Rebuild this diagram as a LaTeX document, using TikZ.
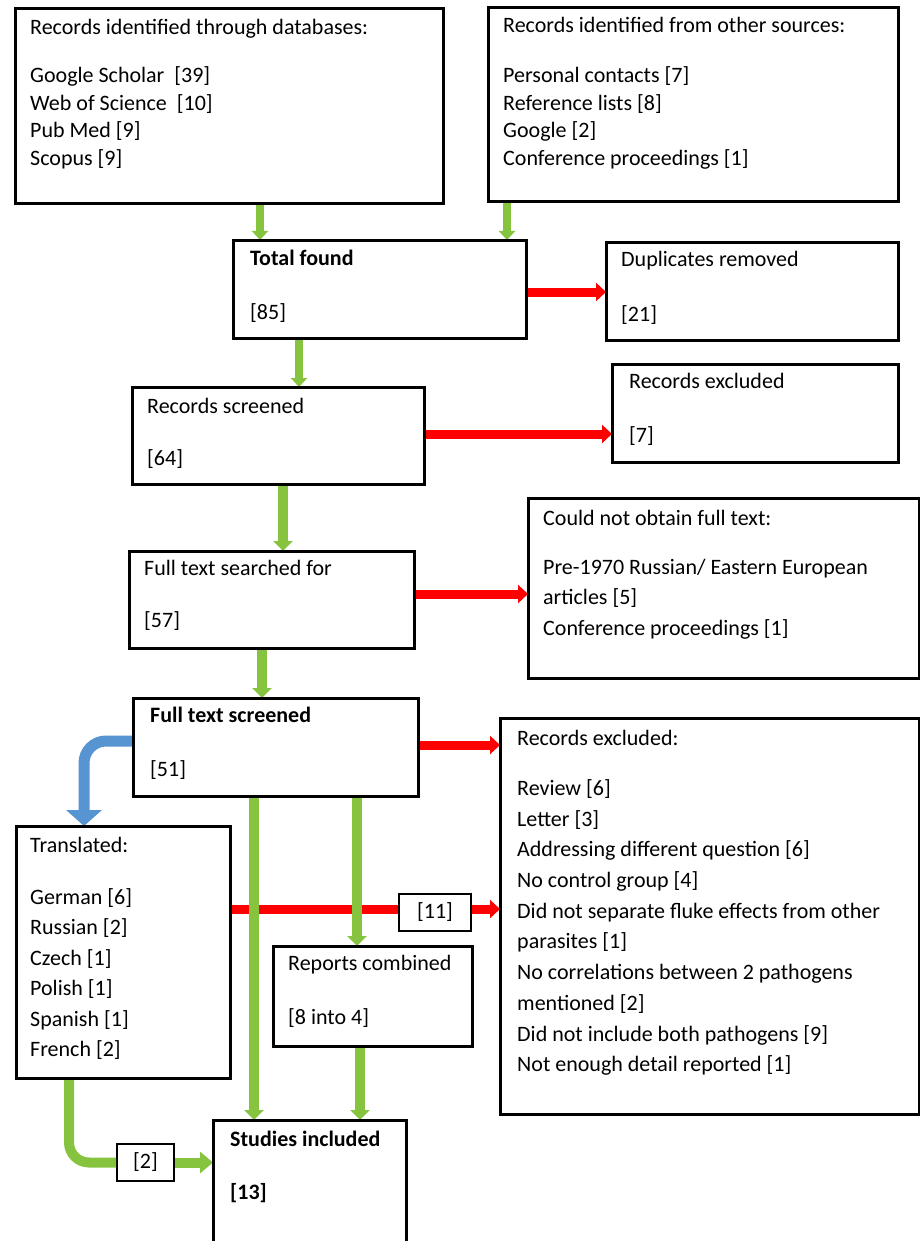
\documentclass[tikz,border=0pt]{standalone}
\usepackage{fontspec}
\setmainfont{Carlito}
\usetikzlibrary{arrows.meta}
\definecolor{gr}{RGB}{134,196,64}
\definecolor{rd}{RGB}{255,0,0}
\definecolor{bl}{RGB}{86,148,210}
\begin{document}
\begin{tikzpicture}[x=1pt,y=-1pt,
  box/.style={draw=black, line width=1.8pt, inner sep=0pt, anchor=north west, fill=none},
  smallbox/.style={draw=black, line width=1.6pt, fill=white, inner sep=0pt, font=\fontsize{22}{26}\selectfont},
  txt/.style={anchor=north west, inner sep=0pt, align=left, font=\fontsize{22}{27.7}\selectfont, execute at begin node=\rule{0pt}{18pt}},
  txtw/.style={txt, font=\fontsize{22}{30.5}\selectfont},
  garrow/.style={draw=gr, line width=8pt, -{Triangle[width=16pt,length=9pt]}},
  gwide/.style={draw=gr, line width=10pt, -{Triangle[width=19pt,length=10pt]}},
  rline/.style={draw=rd, line width=9pt},
  rarrow/.style={rline, -{Triangle[width=18pt,length=10pt]}},
  barrow/.style={draw=bl, line width=11pt, rounded corners=22pt, -{Triangle[width=35pt,length=16pt]}}
]
\useasboundingbox (0,0) rectangle (919,1241);

% boxes
\node[box, minimum width=427pt, minimum height=194pt] (db) at (15,8) {};
\node[box, minimum width=409pt, minimum height=193pt] (ot) at (488,7) {};
\node[box, minimum width=292pt, minimum height=97pt] (total) at (233,240) {};
\node[box, minimum width=291pt, minimum height=97pt] (dup) at (606,242) {};
\node[box, minimum width=291pt, minimum height=96pt] (screened) at (132,387) {};
\node[box, minimum width=285pt, minimum height=97pt] (excla) at (612,364) {};
\node[box, minimum width=284pt, minimum height=96pt] (searched) at (129,551) {};
\node[box, minimum width=390pt, minimum height=179pt] (cno) at (528,498) {};
\node[box, minimum width=284pt, minimum height=97pt] (fts) at (133,698) {};
\node[box, minimum width=418pt, minimum height=395pt] (exclb) at (500,718) {};
\node[box, minimum width=213pt, minimum height=251pt] (trans) at (16,826) {};
\node[box, minimum width=198pt, minimum height=99pt] (rep) at (273,946) {};
\node[box, minimum width=192pt, minimum height=140pt] (stud) at (213,1120) {};

% red connectors
\draw[rarrow] (total.east |- 0,292) -- (dup.west |- 0,292);
\draw[rarrow] (screened.east |- 0,434) -- (excla.west |- 0,434);
\draw[rarrow] (searched.east |- 0,594) -- (cno.west |- 0,594);
\draw[rarrow] (fts.east |- 0,745) -- (exclb.west |- 0,745);
\node[smallbox, minimum width=72pt, minimum height=37pt] (n11) at (435,912.5) {[11]};
\draw[rline] (trans.east |- 0,909) -- (n11.west |- 0,909);
\draw[rarrow] (n11.east |- 0,909) -- (exclb.west |- 0,909);

% green connectors
\draw[garrow] (db.south -| 260,0) -- (total.north -| 260,0);
\draw[garrow] (ot.south -| 507,0) -- (total.north -| 507,0);
\draw[garrow] (total.south -| 299,0) -- (screened.north -| 299,0);
\draw[gwide] (screened.south -| 283,0) -- (searched.north -| 283,0);
\draw[gwide] (searched.south -| 262,0) -- (fts.north -| 262,0);
\draw[gwide] (fts.south -| 254,0) -- (stud.north -| 254,0);
\draw[gwide] (fts.south -| 357,0) -- (rep.north -| 357,0);
\draw[gwide] (rep.south -| 360,0) -- (stud.north -| 360,0);
\node[smallbox, minimum width=57pt, minimum height=37pt] (n2) at (145.5,1162.5) {[2]};
\draw[draw=gr, line width=10pt, rounded corners=20pt] (trans.south -| 69,0) |- (n2.west);
\draw[draw=gr, line width=10pt, -{Triangle[width=21pt,length=13pt]}] (n2.east) -- (stud.west |- n2.east);

% blue connector
\draw[barrow] (fts.west |- 0,741) -| (trans.north -| 84,0);

% redraw box borders on top
\foreach \b in {db,ot,total,dup,screened,excla,searched,cno,fts,exclb,trans,rep,stud}
  \draw[line width=1.8pt] (\b.north west) rectangle (\b.south east);

% texts
\node[txt] (dbT) at (30,19) {Records identified through databases:\\[20.3pt]
  Google Scholar\ \ [39]\\ Web of Science\ \ [10]\\ Pub Med [9]\\ Scopus [9]};
\node[txt] (otT) at (503,17) {Records identified from other sources:\\[22.3pt]
  Personal contacts [7]\\ Reference lists [8]\\ Google [2]\\ Conference proceedings [1]};
\node[txt] (totalT) at (250,250) {\textbf{Total found}\\[26.3pt] [85]};
\node[txt] (dupT) at (621,251) {Duplicates removed\\[27.3pt] [21]};
\node[txt] (screenedT) at (147,398) {Records screened\\[24.3pt] [64]};
\node[txt] (exclaT) at (629,373) {Records excluded\\[26.3pt] [7]};
\node[txt] (searchedT) at (144,560) {Full text searched for\\[24.3pt] [57]};
\node[txtw] (cnoT) at (543,510) {Could not obtain full text:\\[18.5pt]
  Pre-1970 Russian/ Eastern European\\ articles [5]\\ Conference proceedings [1]};
\node[txt] (ftsT) at (150,707) {\textbf{Full text screened}\\[26.3pt] [51]};
\node[txt, font=\fontsize{22}{30.7}\selectfont] (exclbT) at (517,730) {Records excluded:\\[19.3pt]
  Review [6]\\ Letter [3]\\ Addressing different question [6]\\ No control group [4]\\
  Did not separate fluke effects from other\\ parasites [1]\\
  No correlations between 2 pathogens\\ mentioned [2]\\
  Did not include both pathogens [9]\\ Not enough detail reported [1]};
\node[txt, font=\fontsize{22}{30.4}\selectfont] (transT) at (30,837) {Translated:\\[21.6pt]
  German [6]\\ Russian [2]\\ Czech [1]\\ Polish [1]\\ Spanish [1]\\ French [2]};
\node[txt] (repT) at (288,955) {Reports combined\\[26.3pt] [8 into 4]};
\node[txt] (studT) at (230,1131) {\textbf{Studies included}\\[25.3pt] \textbf{[13]}};
\end{tikzpicture}
\end{document}
